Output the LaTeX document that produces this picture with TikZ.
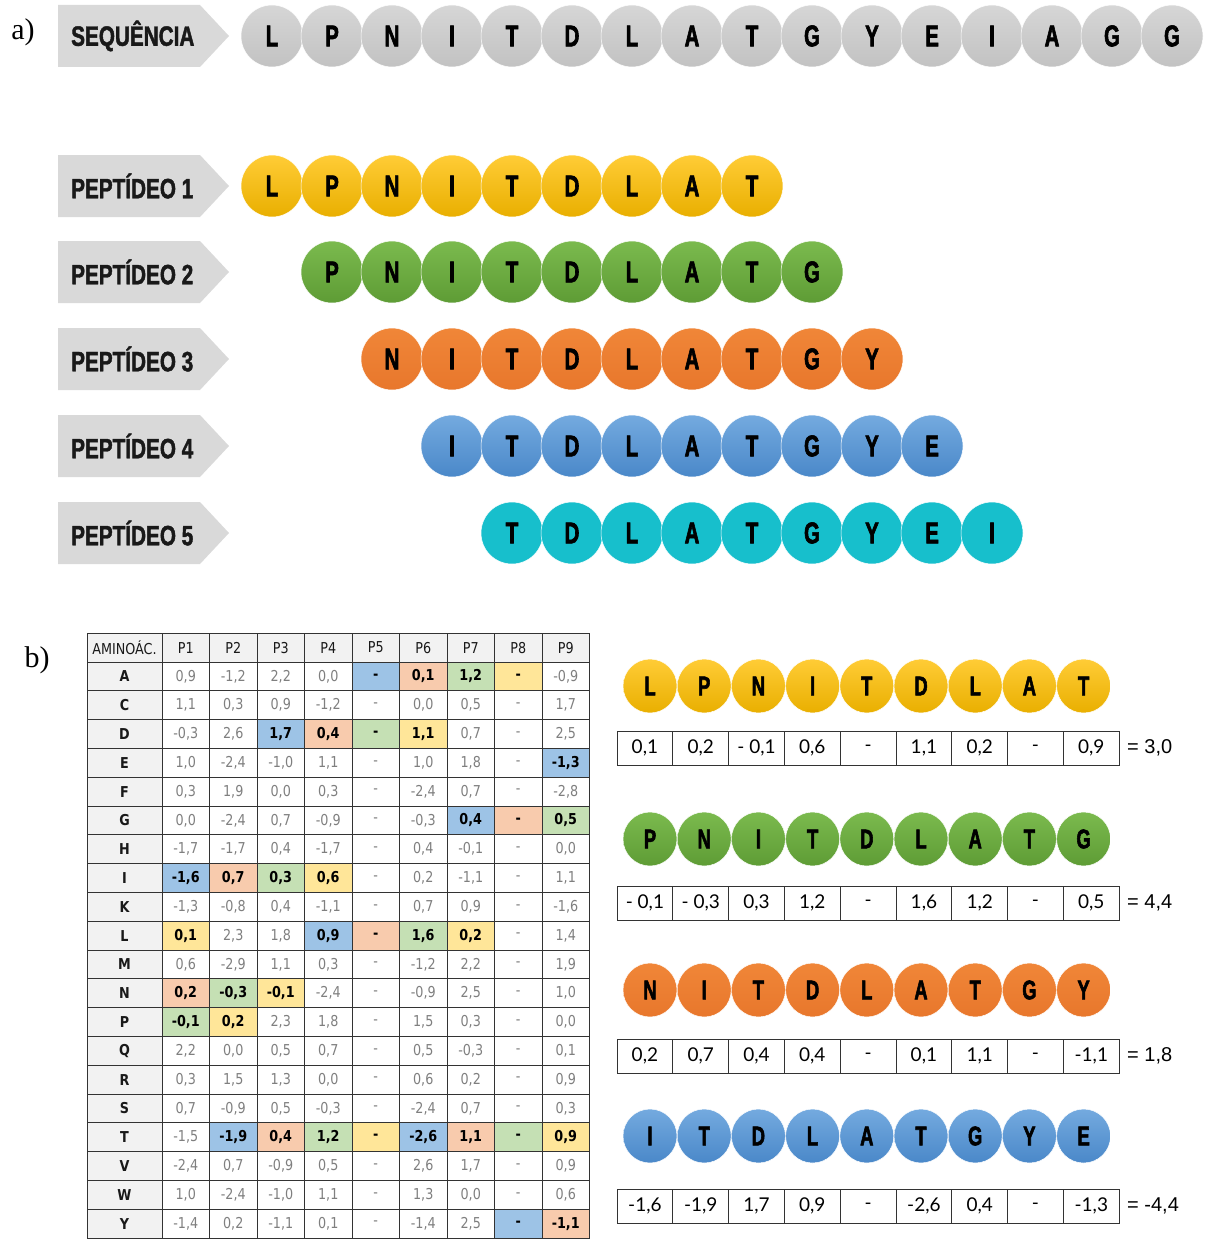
\documentclass[tikz,border=0pt]{standalone}
\usepackage{fontspec}
\newfontfamily\beadfont[FakeStretch=0.68,FakeBold=2]{Liberation Sans Bold}
\newfontfamily\labfont[FakeStretch=0.74,FakeBold=1.5]{Liberation Sans Bold}
\newfontfamily\tabfont[FakeStretch=0.85]{DejaVu Sans}
\newfontfamily\boxfont{Lato}
\newfontfamily\sumfont{Liberation Sans}
\newfontfamily\partfont{Liberation Serif}
\definecolor{chevc}{HTML}{D9D9D9}
\definecolor{grayT}{HTML}{D6D6D6}\definecolor{grayB}{HTML}{C2C2C2}
\definecolor{yelT}{HTML}{FFCC36}\definecolor{yelB}{HTML}{E9AF00}
\definecolor{grnT}{HTML}{7BBA4E}\definecolor{grnB}{HTML}{5E9C35}
\definecolor{orT}{HTML}{F08638}\definecolor{orB}{HTML}{E8772C}
\definecolor{bluT}{HTML}{74AADF}\definecolor{bluB}{HTML}{4A88C9}
\definecolor{tealc}{HTML}{17BFCC}
\definecolor{hlblue}{HTML}{9DC3E6}
\definecolor{hlor}{HTML}{F8CBAD}
\definecolor{hlgr}{HTML}{C5E0B4}
\definecolor{hlye}{HTML}{FFE699}
\definecolor{tgray}{HTML}{7F7F7F}
\definecolor{lgray}{HTML}{F2F2F2}
\newcommand\tabsz{\fontsize{15}{17}\selectfont}
\newcommand\chev[3]{%
  \fill[chevc] (58,#2-31) -- (200,#2-31) -- (229,#2) -- (200,#2+31) -- (58,#2+31) -- cycle;
  \node[chevlab] (#1) at (71,#2) {#3};}
\newcommand\beadrow[6]{% prefix, y, x0, dx, style, list
  \foreach \l [count=\i] in {#6} {\node[#5] (#1-\i) at ({#3+#4*(\i-1)},#2) {\l};}}
\newcommand\trow[3]{%
  \node[rowlab] (r#1) at (124.5,{662+28.8*(#1-0.5)}) {#2};
  \foreach \st/\v [count=\c] in {#3} {\node[\st] (c#1-\c) at ({185.75+47.5*(\c-1)},{662+28.8*(#1-0.5)}) {\v};}}
\newcommand\valrow[4]{%
  \foreach \v [count=\i] in {#3} {\node[valcell] (#1-\i) at ({644.9+55.8*(\i-1)},#2) {\v};}
  \node[sumlab] (#1-s) at (1127,#2) {#4};}
\begin{document}
\begin{tikzpicture}[x=1pt,y=-1pt,
  partlab/.style={font=\partfont\fontsize{30}{34}\selectfont, inner sep=0pt},
  chevlab/.style={anchor=west, inner sep=0pt, text=black!90, font=\labfont\fontsize{28}{30}\selectfont},
  bead/.style={circle, minimum size=62pt, inner sep=0pt, draw=white, line width=0.5pt, text=black, font=\beadfont\fontsize{30}{32}\selectfont},
  sbead/.style={bead, minimum size=54pt, font=\beadfont\fontsize{27}{29}\selectfont},
  grayb/.style={bead, top color=grayT, bottom color=grayB},
  yelb/.style={bead, top color=yelT, bottom color=yelB},
  grnb/.style={bead, top color=grnT, bottom color=grnB},
  orb/.style={bead, top color=orT, bottom color=orB},
  blub/.style={bead, top color=bluT, bottom color=bluB},
  tealb/.style={bead, fill=tealc},
  syelb/.style={sbead, top color=yelT, bottom color=yelB},
  sgrnb/.style={sbead, top color=grnT, bottom color=grnB},
  sorb/.style={sbead, top color=orT, bottom color=orB},
  sblub/.style={sbead, top color=bluT, bottom color=bluB},
  cell/.style={rectangle, draw=black!80, line width=0.9pt, minimum width=47.5pt, minimum height=28.8pt, inner sep=0pt, font=\tabfont\tabsz},
  hn/.style={cell, fill=white, text=tgray},
  hl/.style={cell, text=black, font=\tabfont\tabsz\bfseries},
  hb/.style={hl, fill=hlblue},
  ho/.style={hl, fill=hlor},
  hg/.style={hl, fill=hlgr},
  hy/.style={hl, fill=hlye},
  headcell/.style={cell, fill=lgray, text=black!90},
  rowlab/.style={cell, minimum width=75pt, fill=lgray, text=black!90, font=\tabfont\tabsz\bfseries},
  valcell/.style={rectangle, draw=black!80, line width=0.9pt, minimum width=55.8pt, minimum height=34pt, inner sep=0pt, font=\boxfont\fontsize{19}{21}\selectfont},
  sumlab/.style={anchor=west, inner sep=0pt, font=\sumfont\fontsize{20}{22}\selectfont}
]
\useasboundingbox (0,0) rectangle (1206,1239);
% part a
\node[partlab] (pa) at (23,32) {a)};
\chev{seq}{36}{SEQUÊNCIA}
\beadrow{s}{36}{272}{60}{grayb}{L,P,N,I,T,D,L,A,T,G,Y,E,I,A,G,G}
\chev{pep1}{186}{PEPTÍDEO 1}
\beadrow{p1}{186}{272}{60}{yelb}{L,P,N,I,T,D,L,A,T}
\chev{pep2}{272}{PEPTÍDEO 2}
\beadrow{p2}{272}{332}{60}{grnb}{P,N,I,T,D,L,A,T,G}
\chev{pep3}{359}{PEPTÍDEO 3}
\beadrow{p3}{359}{392}{60}{orb}{N,I,T,D,L,A,T,G,Y}
\chev{pep4}{446}{PEPTÍDEO 4}
\beadrow{p4}{446}{452}{60}{blub}{I,T,D,L,A,T,G,Y,E}
\chev{pep5}{533}{PEPTÍDEO 5}
\beadrow{p5}{533}{512}{60}{tealb}{T,D,L,A,T,G,Y,E,I}
% part b
\node[partlab] (pb) at (37,660) {b)};
\node[headcell, minimum width=75pt] (h0) at (124.5,647.6) {AMINOÁC.};
\foreach \i in {1,...,9} {\node[headcell] (h\i) at ({185.75+47.5*(\i-1)},647.6) {P\i};}
\trow{1}{A}{hn/{0,9},hn/{-1,2},hn/{2,2},hn/{0,0},hb/{-},ho/{0,1},hg/{1,2},hy/{-},hn/{-0,9}}
\trow{2}{C}{hn/{1,1},hn/{0,3},hn/{0,9},hn/{-1,2},hn/{-},hn/{0,0},hn/{0,5},hn/{-},hn/{1,7}}
\trow{3}{D}{hn/{-0,3},hn/{2,6},hb/{1,7},ho/{0,4},hg/{-},hy/{1,1},hn/{0,7},hn/{-},hn/{2,5}}
\trow{4}{E}{hn/{1,0},hn/{-2,4},hn/{-1,0},hn/{1,1},hn/{-},hn/{1,0},hn/{1,8},hn/{-},hb/{-1,3}}
\trow{5}{F}{hn/{0,3},hn/{1,9},hn/{0,0},hn/{0,3},hn/{-},hn/{-2,4},hn/{0,7},hn/{-},hn/{-2,8}}
\trow{6}{G}{hn/{0,0},hn/{-2,4},hn/{0,7},hn/{-0,9},hn/{-},hn/{-0,3},hb/{0,4},ho/{-},hg/{0,5}}
\trow{7}{H}{hn/{-1,7},hn/{-1,7},hn/{0,4},hn/{-1,7},hn/{-},hn/{0,4},hn/{-0,1},hn/{-},hn/{0,0}}
\trow{8}{I}{hb/{-1,6},ho/{0,7},hg/{0,3},hy/{0,6},hn/{-},hn/{0,2},hn/{-1,1},hn/{-},hn/{1,1}}
\trow{9}{K}{hn/{-1,3},hn/{-0,8},hn/{0,4},hn/{-1,1},hn/{-},hn/{0,7},hn/{0,9},hn/{-},hn/{-1,6}}
\trow{10}{L}{hy/{0,1},hn/{2,3},hn/{1,8},hb/{0,9},ho/{-},hg/{1,6},hy/{0,2},hn/{-},hn/{1,4}}
\trow{11}{M}{hn/{0,6},hn/{-2,9},hn/{1,1},hn/{0,3},hn/{-},hn/{-1,2},hn/{2,2},hn/{-},hn/{1,9}}
\trow{12}{N}{ho/{0,2},hg/{-0,3},hy/{-0,1},hn/{-2,4},hn/{-},hn/{-0,9},hn/{2,5},hn/{-},hn/{1,0}}
\trow{13}{P}{hg/{-0,1},hy/{0,2},hn/{2,3},hn/{1,8},hn/{-},hn/{1,5},hn/{0,3},hn/{-},hn/{0,0}}
\trow{14}{Q}{hn/{2,2},hn/{0,0},hn/{0,5},hn/{0,7},hn/{-},hn/{0,5},hn/{-0,3},hn/{-},hn/{0,1}}
\trow{15}{R}{hn/{0,3},hn/{1,5},hn/{1,3},hn/{0,0},hn/{-},hn/{0,6},hn/{0,2},hn/{-},hn/{0,9}}
\trow{16}{S}{hn/{0,7},hn/{-0,9},hn/{0,5},hn/{-0,3},hn/{-},hn/{-2,4},hn/{0,7},hn/{-},hn/{0,3}}
\trow{17}{T}{hn/{-1,5},hb/{-1,9},ho/{0,4},hg/{1,2},hy/{-},hb/{-2,6},ho/{1,1},hg/{-},hy/{0,9}}
\trow{18}{V}{hn/{-2,4},hn/{0,7},hn/{-0,9},hn/{0,5},hn/{-},hn/{2,6},hn/{1,7},hn/{-},hn/{0,9}}
\trow{19}{W}{hn/{1,0},hn/{-2,4},hn/{-1,0},hn/{1,1},hn/{-},hn/{1,3},hn/{0,0},hn/{-},hn/{0,6}}
\trow{20}{Y}{hn/{-1,4},hn/{0,2},hn/{-1,1},hn/{0,1},hn/{-},hn/{-1,4},hn/{2,5},hb/{-},ho/{-1,1}}
% right side
\beadrow{q1}{686}{650}{54.2}{syelb}{L,P,N,I,T,D,L,A,T}
\valrow{v1}{748}{{0,1},{0,2},{- 0,1},{0,6},{-},{1,1},{0,2},{-},{0,9}}{= 3,0}
\beadrow{q2}{839}{650}{54.2}{sgrnb}{P,N,I,T,D,L,A,T,G}
\valrow{v2}{903}{{- 0,1},{- 0,3},{0,3},{1,2},{-},{1,6},{1,2},{-},{0,5}}{= 4,4}
\beadrow{q3}{990}{650}{54.2}{sorb}{N,I,T,D,L,A,T,G,Y}
\valrow{v3}{1056}{{0,2},{0,7},{0,4},{0,4},{-},{0,1},{1,1},{-},{-1,1}}{= 1,8}
\beadrow{q4}{1136}{650}{54.2}{sblub}{I,T,D,L,A,T,G,Y,E}
\valrow{v4}{1206}{{-1,6},{-1,9},{1,7},{0,9},{-},{-2,6},{0,4},{-},{-1,3}}{= -4,4}
\end{tikzpicture}
\end{document}
